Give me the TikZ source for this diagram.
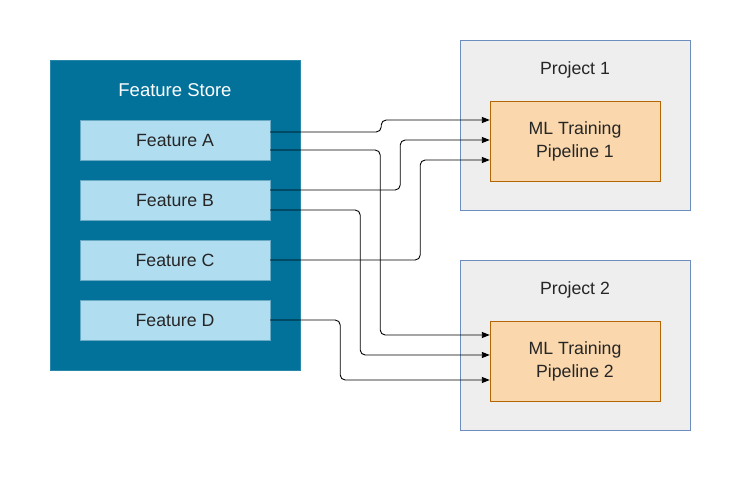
\documentclass[tikz,border=0pt]{standalone}
\usepackage{fontspec}
\setmainfont{Liberation Sans}
\usetikzlibrary{positioning,arrows.meta}
\definecolor{storeblue}{HTML}{03729B}
\definecolor{featblue}{HTML}{B1DDF0}
\definecolor{projgray}{HTML}{EEEEEE}
\definecolor{projline}{HTML}{6C8EBF}
\definecolor{pipeorange}{HTML}{FAD7AC}
\definecolor{pipeline}{HTML}{B46504}
\tikzset{
  feat/.style={draw=storeblue!60, fill=featblue, minimum width=190pt, minimum height=40pt, text=black!85},
  proj/.style={draw=projline, fill=projgray, minimum width=230pt, minimum height=170pt},
  pipe/.style={draw=pipeline, fill=pipeorange, minimum width=170pt, minimum height=80pt, align=center,
    font=\fontsize{17.7pt}{23pt}\selectfont, text=black!85},
  link/.style={-{Triangle[length=8pt,width=6pt]}, rounded corners=5pt, line width=0.9pt}
}
\begin{document}
\begin{tikzpicture}[x=1pt, y=-1pt, font=\fontsize{17.7pt}{20pt}\selectfont]
   \useasboundingbox (0,0) rectangle (740,481);
   % feature store
   \node (store) [draw=storeblue!85!white, fill=storeblue, minimum width=250pt, minimum height=310pt] at (175,215) {};
   \node (storelbl) [text=white, font=\fontsize{18.5pt}{20pt}\selectfont] at (175,90) {Feature Store};
   \node (fa) [feat] at (175,140) {Feature A};
   \node (fb) [feat] at (175,200) {Feature B};
   \node (fc) [feat] at (175,260) {Feature C};
   \node (fd) [feat] at (175,320) {Feature D};
   % projects
   \node (p1) [proj] at (575,125) {};
   \node (p1lbl) [text=black!85] at (575,70) {Project 1};
   \node (ml1) [pipe] at (575,141) {ML Training\\Pipeline 1};
   \node (p2) [proj] at (575,345) {};
   \node (p2lbl) [text=black!85] at (575,290) {Project 2};
   \node (ml2) [pipe] at (575,361) {ML Training\\Pipeline 2};
   % links
   \draw[link] ([yshift=8pt]fa.east) -- ++(111,0) |- ([yshift=21pt]ml1.west);
   \draw[link] ([yshift=-10pt]fa.east) -- ++(110,0) |- ([yshift=26pt]ml2.west);
   \draw[link] ([yshift=10pt]fb.east) -- ++(130,0) |- ([yshift=1pt]ml1.west);
   \draw[link] ([yshift=-10pt]fb.east) -- ++(90,0) |- ([yshift=6pt]ml2.west);
   \draw[link] (fc.east) -- ++(150,0) |- ([yshift=-19pt]ml1.west);
   \draw[link] (fd.east) -- ++(70,0) |- ([yshift=-19pt]ml2.west);
\end{tikzpicture}
\end{document}
